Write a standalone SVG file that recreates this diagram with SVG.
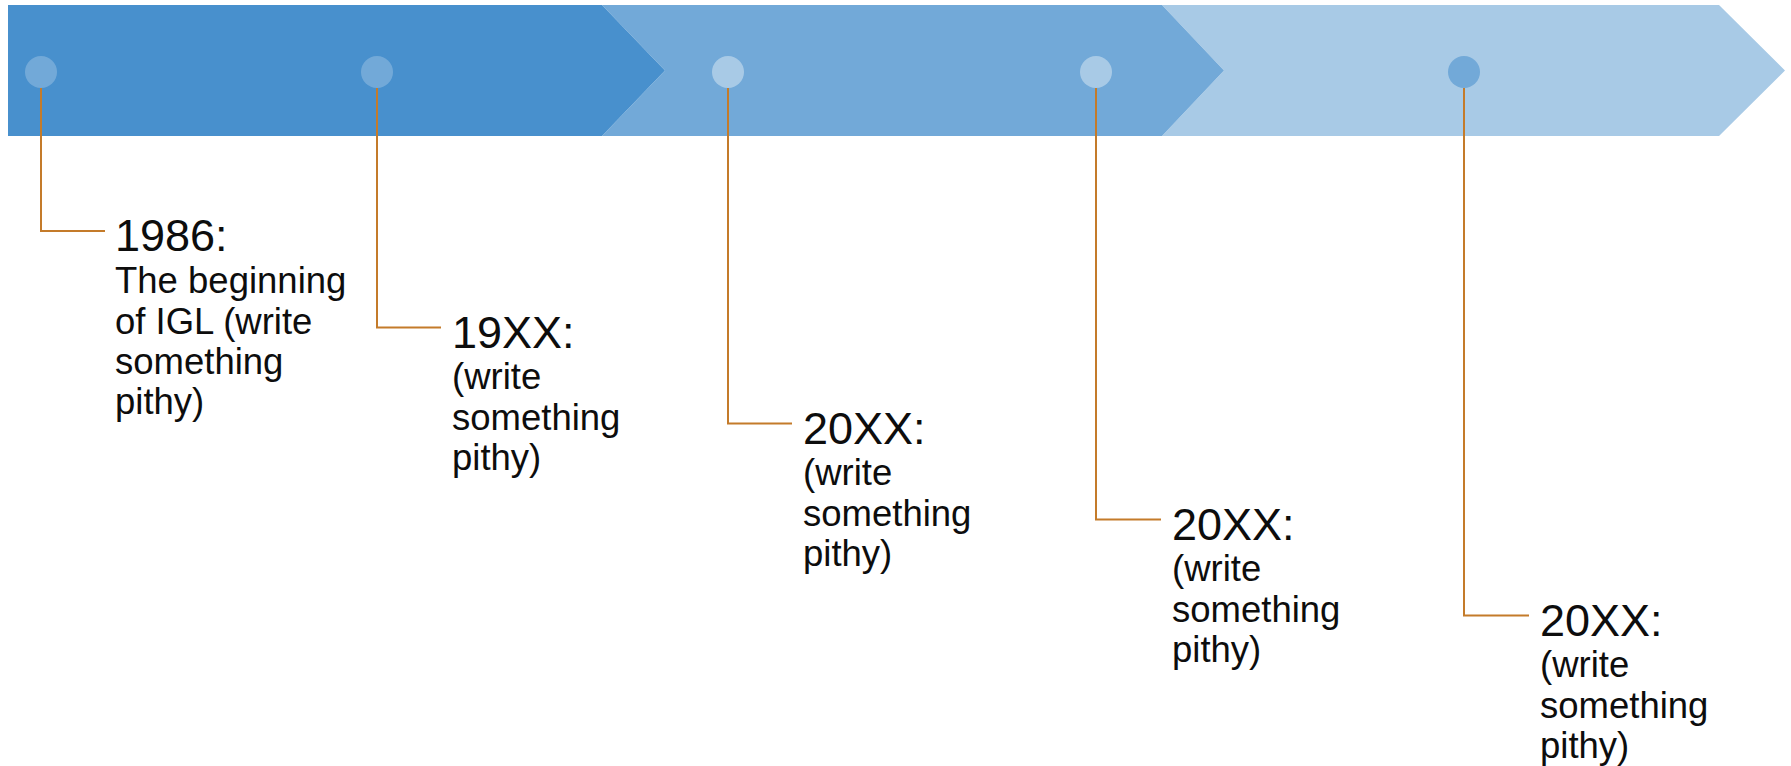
<svg xmlns="http://www.w3.org/2000/svg" width="1791" height="766" viewBox="0 0 1791 766">
<style>
.head{font-family:"Liberation Sans",Arial,sans-serif;font-size:45px;fill:#0d0d0d}
.body{font-family:"Liberation Sans",Arial,sans-serif;font-size:36.5px;fill:#0d0d0d}
.conn{fill:none;stroke:#C47B2A;stroke-width:2}
.dot-m{fill:#72A9D8}
.dot-l{fill:#A8CAE6}
</style>
<rect width="1791" height="766" fill="#ffffff"/>
<g id="band">
<polygon points="1162,5 1719,5 1785,70.5 1719,136 1162,136 1224,70.5" fill="#A8CAE6"/>
<polygon points="602,5 1162,5 1224,70.5 1162,136 602,136 665,70.5" fill="#72A9D8"/>
<polygon points="8,5 602,5 665,70.5 602,136 8,136" fill="#4890CD"/>
</g>
<g id="connectors">
<polyline class="conn" points="41,88 41,231 105,231"/>
<polyline class="conn" points="377,88 377,327.5 441,327.5"/>
<polyline class="conn" points="728,88 728,423.5 792,423.5"/>
<polyline class="conn" points="1096,88 1096,519.5 1161,519.5"/>
<polyline class="conn" points="1464,88 1464,615.5 1529,615.5"/>
</g>
<g id="node1">
<circle class="dot-m" cx="41" cy="72" r="16"/>
<text class="head" x="115" y="251">1986:</text>
<text class="body" x="115" y="293">The beginning</text>
<text class="body" x="115" y="333.5">of IGL (write</text>
<text class="body" x="115" y="374">something</text>
<text class="body" x="115" y="414">pithy)</text>
</g>
<g id="node2">
<circle class="dot-m" cx="377" cy="72" r="16"/>
<text class="head" x="452" y="347.5">19XX:</text>
<text class="body" x="452" y="389">(write</text>
<text class="body" x="452" y="429.5">something</text>
<text class="body" x="452" y="470">pithy)</text>
</g>
<g id="node3">
<circle class="dot-l" cx="728" cy="72" r="16"/>
<text class="head" x="803" y="443.5">20XX:</text>
<text class="body" x="803" y="485">(write</text>
<text class="body" x="803" y="525.5">something</text>
<text class="body" x="803" y="566">pithy)</text>
</g>
<g id="node4">
<circle class="dot-l" cx="1096" cy="72" r="16"/>
<text class="head" x="1172" y="539.5">20XX:</text>
<text class="body" x="1172" y="581">(write</text>
<text class="body" x="1172" y="621.5">something</text>
<text class="body" x="1172" y="662">pithy)</text>
</g>
<g id="node5">
<circle class="dot-m" cx="1464" cy="72" r="16"/>
<text class="head" x="1540" y="635.5">20XX:</text>
<text class="body" x="1540" y="677">(write</text>
<text class="body" x="1540" y="717.5">something</text>
<text class="body" x="1540" y="758">pithy)</text>
</g>
</svg>
